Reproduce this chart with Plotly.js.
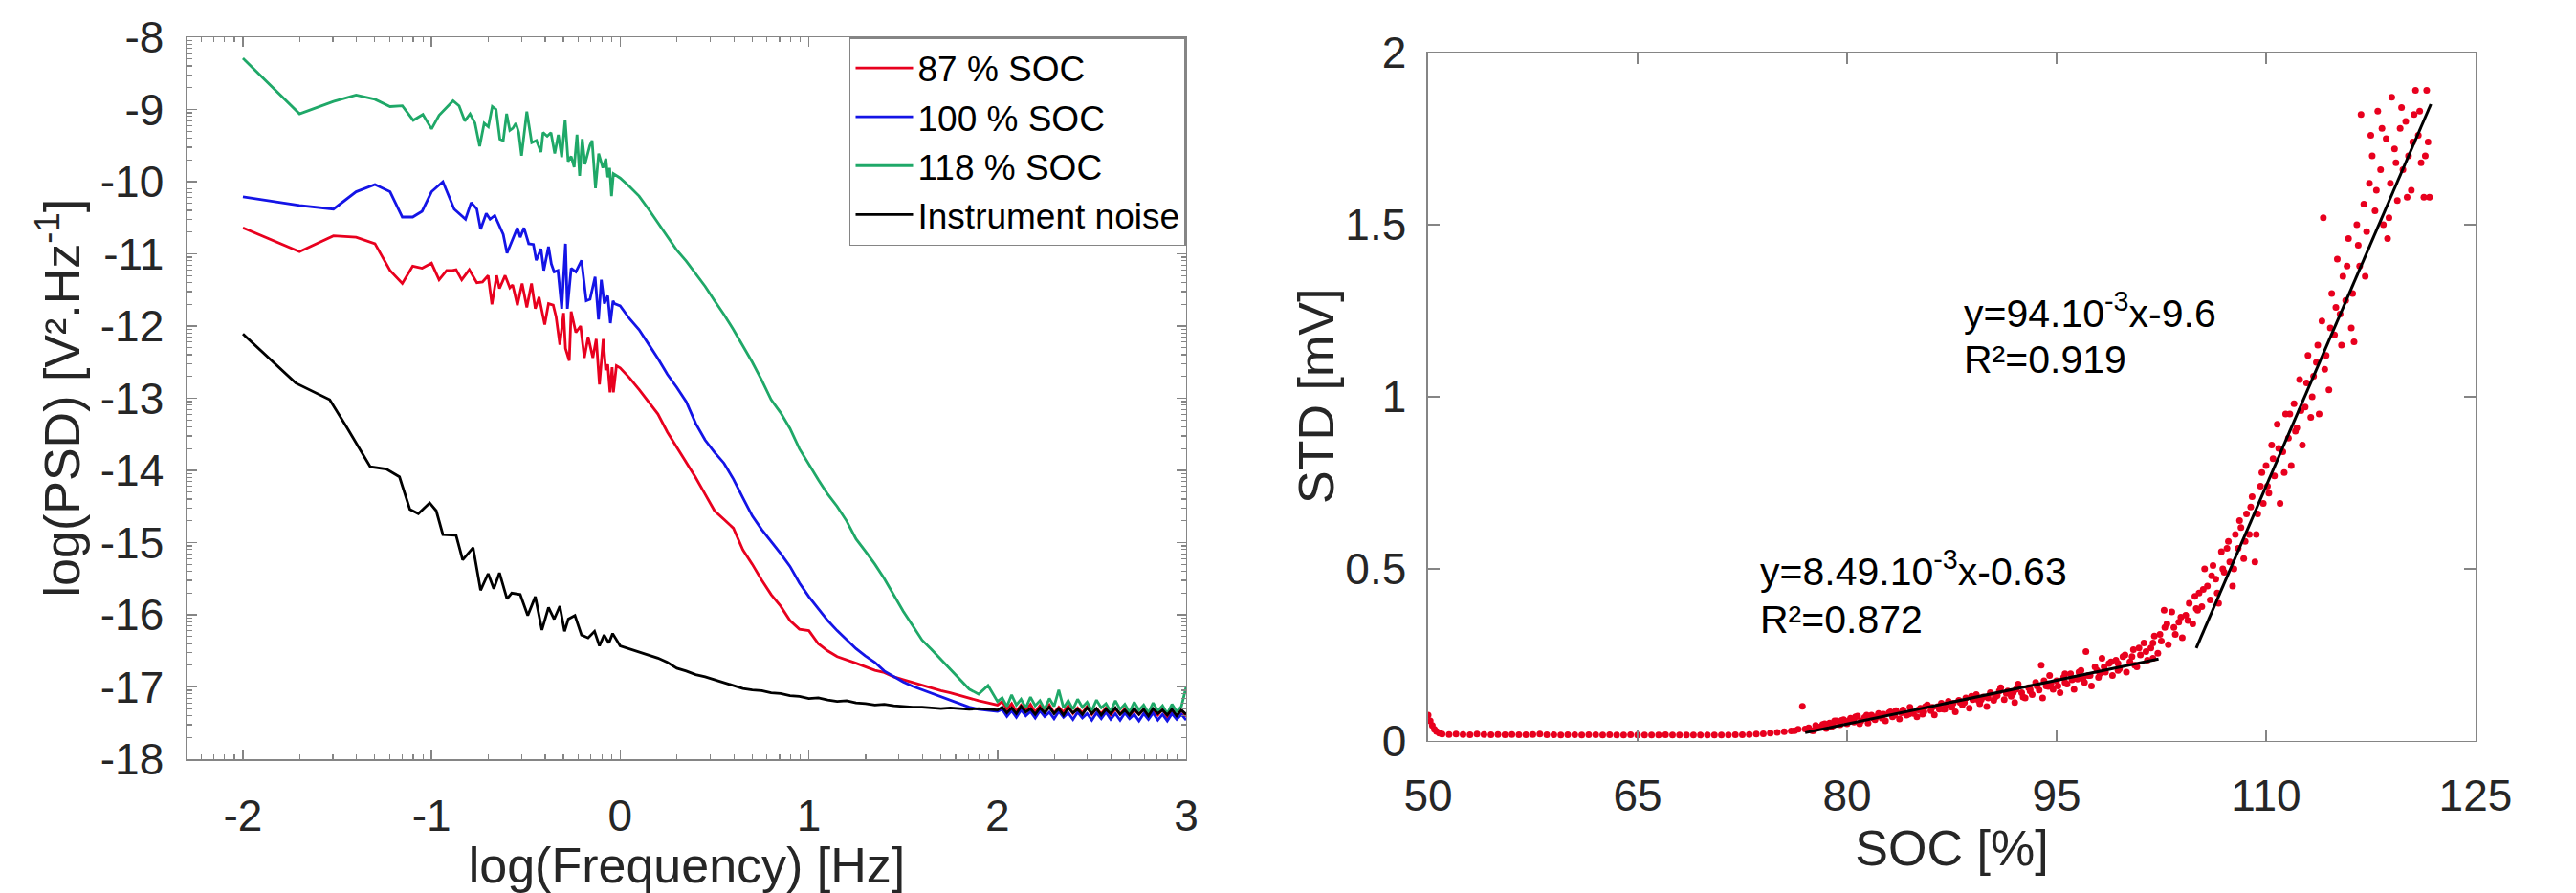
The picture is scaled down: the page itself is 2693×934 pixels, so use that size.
<!DOCTYPE html>
<html>
<head>
<meta charset="utf-8">
<script src="https://cdn.plot.ly/plotly-3.0.1.min.js"></script>
<style>html,body{margin:0;padding:0;background:#fff;}#chart{width:2693px;height:934px;}</style>
</head>
<body>
<div id="chart"></div>
<script>
// ---------------- LEFT PANEL DATA : log(PSD) vs log(Frequency) ----------------
const seriesNames = ['87 % SOC', '100 % SOC', '118 % SOC', 'Instrument noise'];

// low-frequency (noisy) part, each series with its own log(f) points
const soc87_lowLogF = [-2.0,-1.70,-1.52,-1.40,-1.30,-1.22,-1.155,-1.10,-1.05,-1.0,-0.96,-0.92,-0.89,-0.87,-0.84,-0.80,-0.76,-0.73,-0.70,-0.68,-0.655,-0.64,-0.61,-0.585,-0.57,-0.545,-0.52,-0.495,-0.47,-0.45,-0.43,-0.40,-0.38,-0.355,-0.34,-0.32,-0.30,-0.29,-0.27,-0.26,-0.235,-0.21,-0.19,-0.17,-0.145,-0.127,-0.11,-0.09,-0.077,-0.066,-0.054,-0.043,-0.036,-0.02];
const soc87_lowPSD  = [-10.64,-10.97,-10.75,-10.77,-10.86,-11.23,-11.41,-11.17,-11.2,-11.13,-11.36,-11.23,-11.23,-11.22,-11.36,-11.22,-11.4,-11.39,-11.3,-11.7,-11.3,-11.48,-11.3,-11.47,-11.43,-11.71,-11.41,-11.74,-11.41,-11.76,-11.6,-11.98,-11.69,-11.71,-11.87,-12.26,-11.82,-12.31,-12.48,-11.8,-12.09,-12.0,-12.44,-12.15,-12.44,-12.18,-12.81,-12.18,-12.61,-12.53,-12.92,-12.57,-12.92,-12.55];

const soc100_lowLogF = [-2.0,-1.7,-1.52,-1.4,-1.3,-1.22,-1.155,-1.1,-1.05,-1.0,-0.94,-0.88,-0.82,-0.79,-0.76,-0.74,-0.71,-0.69,-0.665,-0.64,-0.62,-0.60,-0.575,-0.545,-0.53,-0.51,-0.485,-0.46,-0.445,-0.42,-0.405,-0.38,-0.365,-0.35,-0.33,-0.31,-0.29,-0.28,-0.26,-0.235,-0.205,-0.18,-0.16,-0.133,-0.115,-0.10,-0.084,-0.066,-0.052,-0.038,-0.03];
const soc100_lowPSD  = [-10.21,-10.33,-10.38,-10.14,-10.04,-10.14,-10.49,-10.49,-10.41,-10.14,-10.0,-10.38,-10.52,-10.29,-10.38,-10.66,-10.44,-10.52,-10.47,-10.62,-10.73,-10.99,-10.82,-10.64,-10.77,-10.64,-10.86,-10.87,-11.09,-10.93,-11.23,-10.9,-11.14,-11.25,-11.23,-11.76,-10.86,-11.76,-11.2,-11.25,-11.09,-11.65,-11.63,-11.32,-11.91,-11.36,-11.69,-11.58,-11.96,-11.65,-11.69];

const soc118_lowLogF = [-2.0,-1.70,-1.52,-1.40,-1.30,-1.22,-1.155,-1.097,-1.046,-1.0,-0.96,-0.886,-0.854,-0.824,-0.796,-0.770,-0.745,-0.721,-0.699,-0.678,-0.658,-0.638,-0.620,-0.602,-0.585,-0.569,-0.553,-0.538,-0.523,-0.495,-0.469,-0.444,-0.420,-0.409,-0.387,-0.367,-0.347,-0.328,-0.310,-0.292,-0.276,-0.260,-0.244,-0.229,-0.215,-0.201,-0.187,-0.161,-0.149,-0.131,-0.114,-0.092,-0.076,-0.066,-0.056,-0.046,-0.036];
const soc118_lowPSD  = [-8.29,-9.06,-8.89,-8.80,-8.86,-8.96,-8.95,-9.15,-9.07,-9.27,-9.08,-8.88,-8.95,-9.16,-9.06,-9.19,-9.51,-9.19,-9.24,-8.96,-9.0,-9.41,-9.43,-9.06,-9.29,-9.26,-9.19,-9.32,-9.64,-9.03,-9.46,-9.43,-9.59,-9.32,-9.37,-9.32,-9.61,-9.35,-9.66,-9.14,-9.72,-9.65,-9.80,-9.35,-9.92,-9.41,-9.76,-9.50,-9.43,-10.09,-9.61,-9.81,-9.68,-9.94,-9.81,-10.2,-9.89];

const noise_lowLogF = [-2.0,-1.72,-1.54,-1.45,-1.325,-1.24,-1.17,-1.115,-1.07,-1.01,-0.975,-0.94,-0.87,-0.835,-0.78,-0.74,-0.70,-0.67,-0.64,-0.60,-0.575,-0.53,-0.49,-0.45,-0.415,-0.38,-0.35,-0.32,-0.295,-0.275,-0.24,-0.205,-0.17,-0.136,-0.11,-0.085,-0.06,-0.04];
const noise_lowPSD  = [-12.11,-12.79,-13.02,-13.4,-13.95,-13.98,-14.09,-14.54,-14.6,-14.45,-14.56,-14.89,-14.9,-15.24,-15.07,-15.66,-15.43,-15.64,-15.42,-15.78,-15.7,-15.72,-16.01,-15.75,-16.21,-15.9,-16.06,-15.88,-16.23,-16.06,-16.01,-16.28,-16.32,-16.23,-16.43,-16.28,-16.39,-16.26];

// high-frequency smooth part, shared log(f) grid
const highLogF = [0.00,0.05,0.10,0.15,0.20,0.25,0.30,0.35,0.40,0.45,0.50,0.55,0.60,0.65,0.70,0.75,0.80,0.85,0.90,0.95,1.00,1.05,1.10,1.15,1.20,1.25,1.30,1.35,1.40,1.45,1.50,1.55,1.60,1.65,1.70,1.75,1.80,1.85,1.90,1.95,2.00];
const soc87_highPSD  = [-12.58,-12.72,-12.88,-13.05,-13.22,-13.47,-13.68,-13.9,-14.1,-14.33,-14.56,-14.68,-14.8,-15.1,-15.3,-15.52,-15.72,-15.88,-16.08,-16.2,-16.22,-16.4,-16.5,-16.58,-16.62,-16.67,-16.72,-16.77,-16.8,-16.86,-16.9,-16.94,-16.98,-17.02,-17.05,-17.08,-17.12,-17.15,-17.19,-17.22,-17.25];
const soc100_highPSD = [-11.72,-11.9,-12.05,-12.25,-12.45,-12.67,-12.85,-13.05,-13.35,-13.58,-13.75,-13.9,-14.12,-14.38,-14.63,-14.82,-14.98,-15.15,-15.33,-15.56,-15.75,-15.92,-16.08,-16.22,-16.34,-16.47,-16.57,-16.66,-16.78,-16.86,-16.93,-16.99,-17.04,-17.09,-17.14,-17.19,-17.24,-17.28,-17.31,-17.33,-17.34];
const soc118_highPSD = [-9.95,-10.07,-10.2,-10.38,-10.57,-10.77,-10.95,-11.1,-11.28,-11.45,-11.65,-11.84,-12.05,-12.27,-12.5,-12.75,-13.02,-13.2,-13.42,-13.7,-13.92,-14.13,-14.33,-14.5,-14.7,-14.95,-15.12,-15.3,-15.5,-15.72,-15.95,-16.15,-16.35,-16.48,-16.62,-16.76,-16.9,-17.03,-17.1,-16.98,-17.2];
const noise_highPSD  = [-16.43,-16.47,-16.51,-16.55,-16.6,-16.66,-16.74,-16.78,-16.83,-16.86,-16.9,-16.94,-16.97,-17.02,-17.04,-17.05,-17.08,-17.09,-17.12,-17.13,-17.16,-17.15,-17.18,-17.2,-17.19,-17.22,-17.23,-17.25,-17.24,-17.26,-17.27,-17.28,-17.28,-17.29,-17.3,-17.29,-17.3,-17.31,-17.3,-17.31,-17.32];

// noisy plateau tail, shared log(f) grid
const tailLogF = [2.025,2.05,2.075,2.1,2.125,2.15,2.175,2.2,2.225,2.25,2.275,2.3,2.325,2.35,2.375,2.4,2.425,2.45,2.475,2.5,2.525,2.55,2.575,2.6,2.625,2.65,2.675,2.7,2.725,2.75,2.775,2.8,2.825,2.85,2.875,2.9,2.925,2.95,2.975,3.0];
const soc87_tailPSD  = [-17.2,-17.31,-17.23,-17.34,-17.25,-17.32,-17.24,-17.35,-17.26,-17.34,-17.25,-17.36,-17.28,-17.35,-17.26,-17.37,-17.29,-17.36,-17.27,-17.38,-17.3,-17.37,-17.29,-17.39,-17.31,-17.38,-17.3,-17.4,-17.32,-17.38,-17.31,-17.41,-17.33,-17.39,-17.31,-17.42,-17.33,-17.4,-17.32,-17.41];
const soc100_tailPSD = [-17.31,-17.41,-17.33,-17.42,-17.32,-17.4,-17.34,-17.43,-17.33,-17.41,-17.35,-17.44,-17.34,-17.42,-17.36,-17.45,-17.35,-17.43,-17.37,-17.46,-17.36,-17.44,-17.35,-17.45,-17.37,-17.46,-17.36,-17.44,-17.38,-17.47,-17.37,-17.45,-17.36,-17.46,-17.38,-17.47,-17.37,-17.45,-17.38,-17.46];
const soc118_tailPSD = [-17.15,-17.27,-17.11,-17.25,-17.17,-17.29,-17.14,-17.26,-17.19,-17.31,-17.16,-17.27,-17.04,-17.29,-17.19,-17.31,-17.17,-17.28,-17.21,-17.33,-17.18,-17.29,-17.23,-17.34,-17.19,-17.31,-17.24,-17.35,-17.21,-17.32,-17.25,-17.36,-17.22,-17.33,-17.26,-17.37,-17.24,-17.34,-17.27,-17.0];
const noise_tailPSD  = [-17.28,-17.36,-17.29,-17.37,-17.27,-17.35,-17.3,-17.38,-17.29,-17.36,-17.28,-17.37,-17.3,-17.39,-17.29,-17.36,-17.31,-17.38,-17.29,-17.37,-17.3,-17.39,-17.31,-17.37,-17.29,-17.38,-17.32,-17.39,-17.3,-17.38,-17.31,-17.4,-17.3,-17.37,-17.32,-17.39,-17.31,-17.4,-17.32,-17.38];

const leftXTicks = [-2,-1,0,1,2,3];
const leftXTickText = ['-2','-1','0','1','2','3'];
const leftYTicks = [-18,-17,-16,-15,-14,-13,-12,-11,-10,-9,-8];
const leftYTickText = ['-18','-17','-16','-15','-14','-13','-12','-11','-10','-9','-8'];

// ---------------- RIGHT PANEL DATA : STD vs SOC ----------------
const socPct = [50.0,50.15,50.3,50.45,50.6,50.8,51.0,51.5,52.0,52.5,53.0,53.5,54.0,54.5,55.0,55.5,56.0,56.5,57.0,57.5,58.0,58.5,59.0,59.5,60.0,60.5,61.0,61.5,62.0,62.5,63.0,63.5,64.0,64.5,65.0,65.5,66.0,66.5,67.0,67.5,68.0,68.5,69.0,69.5,70.0,70.5,71.0,71.5,72.0,72.5,73.0,73.5,74.0,74.5,75.0,75.5,76.0,
76.25,76.5,76.8,77.0,77.25,77.5,77.75,78.0,78.25,78.5,78.75,79.0,79.25,79.5,79.75,80.0,80.25,80.5,80.75,81.0,81.25,81.5,81.75,82.0,82.25,82.5,82.75,83.0,83.25,83.5,83.75,84.0,84.25,84.5,84.75,85.0,85.25,85.5,85.75,86.0,86.25,86.5,86.75,87.0,87.25,87.5,87.75,88.0,88.25,88.5,88.75,89.0,89.25,89.5,89.75,90.0,90.25,90.5,90.75,91.0,91.25,91.5,91.75,92.0,92.25,92.5,92.75,93.0,93.25,93.5,93.75,93.9,94.0,94.25,94.5,94.75,95.0,95.25,95.5,95.75,96.0,96.25,96.5,96.75,97.0,97.1,97.25,97.5,97.75,98.0,98.25,98.5,98.75,99.0,99.25,99.5,99.75,100.0,100.25,100.5,100.75,101.0,101.25,101.5,101.75,102.0,102.25,102.5,102.7,102.75,103.0,103.25,103.5,103.75,104.0,104.25,104.5,104.75,105.0,
79.1,80.6,81.9,83.1,84.4,85.6,86.9,88.1,89.4,90.6,91.9,93.1,94.4,95.6,96.9,98.1,99.4,100.6,101.9,
77.6,78.4,78.9,79.6,80.1,80.9,81.4,82.1,82.6,83.4,83.9,84.6,85.1,85.4,86.1,86.6,87.1,87.6,88.4,88.9,89.6,90.1,90.9,91.4,92.1,92.6,93.1,93.6,94.1,94.6,95.1,95.6,96.1,96.6,97.4,97.9,98.4,98.9,99.4,99.9,100.4,100.9,101.4,101.9,102.4,102.9,103.4,103.9,104.4,104.9,105.1,
105.2,105.4,105.6,105.8,106.0,106.2,106.4,106.6,106.8,107.0,107.2,107.4,107.6,107.8,108.0,108.2,108.4,108.6,108.8,109.0,109.2,109.4,109.6,109.8,110.0,110.2,110.4,110.6,110.8,111.0,111.2,111.4,111.6,111.8,112.0,112.2,112.4,112.6,112.8,113.0,113.2,113.4,113.6,113.8,114.0,114.1,114.3,114.5,114.7,114.9,115.1,115.3,115.5,115.7,115.9,116.1,116.3,116.5,116.7,116.8,117.0,117.2,117.4,117.6,117.8,118.0,118.2,118.4,118.6,118.7,118.9,119.0,119.2,119.4,119.6,119.8,120.0,120.2,120.4,120.6,120.7,120.9,121.1,121.3,121.5,121.6,121.7,
105.5,106.1,106.5,106.9,107.3,107.7,108.1,108.5,108.9,109.3,109.7,110.1,110.5,110.9,111.3,111.7,112.1,112.5,112.9,113.3,113.7,114.2,114.6,115.0,115.4,115.8,116.2,116.6,117.1,117.5,117.9,118.3,118.8,119.3,119.7,120.1,120.5,121.0,121.4];
const stdMv = [0.075,0.058,0.045,0.034,0.028,0.023,0.020,0.019,0.020,0.019,0.018,0.020,0.019,0.018,0.019,0.018,0.019,0.018,0.018,0.019,0.020,0.018,0.018,0.017,0.018,0.018,0.017,0.018,0.018,0.017,0.018,0.017,0.017,0.018,0.017,0.017,0.017,0.017,0.018,0.017,0.017,0.017,0.017,0.017,0.017,0.017,0.017,0.017,0.018,0.018,0.019,0.020,0.021,0.023,0.025,0.027,0.029,
0.030,0.034,0.101,0.035,0.038,0.030,0.045,0.040,0.048,0.036,0.052,0.045,0.058,0.047,0.062,0.050,0.066,0.055,0.072,0.058,0.068,0.052,0.075,0.062,0.080,0.066,0.058,0.082,0.070,0.088,0.064,0.090,0.075,0.098,0.080,0.070,0.095,0.085,0.105,0.088,0.076,0.100,0.110,0.092,0.115,0.098,0.085,0.118,0.105,0.125,0.095,0.120,0.135,0.108,0.128,0.100,0.140,0.118,0.132,0.155,0.120,0.145,0.130,0.112,0.165,0.140,0.125,0.155,0.135,0.170,0.148,0.220,0.125,0.160,0.190,0.150,0.175,0.140,0.185,0.165,0.195,0.150,0.180,0.205,0.170,0.260,0.190,0.160,0.215,0.185,0.240,0.200,0.225,0.190,0.235,0.210,0.245,0.200,0.230,0.265,0.215,0.250,0.285,0.235,0.270,0.305,0.255,0.290,0.380,0.330,0.280,0.375,0.310,0.345,0.300,0.365,0.400,0.340,0.385,
0.058,0.070,0.066,0.085,0.078,0.100,0.092,0.112,0.118,0.128,0.140,0.150,0.158,0.170,0.182,0.196,0.205,0.220,0.240,
0.030,0.050,0.042,0.060,0.058,0.050,0.075,0.070,0.078,0.075,0.082,0.085,0.090,0.078,0.098,0.092,0.105,0.110,0.112,0.130,0.120,0.125,0.145,0.138,0.150,0.128,0.145,0.160,0.175,0.165,0.160,0.195,0.178,0.200,0.190,0.205,0.215,0.230,0.225,0.250,0.245,0.270,0.260,0.285,0.310,0.340,0.330,0.360,0.350,0.420,0.380,
0.43,0.39,0.50,0.45,0.41,0.51,0.47,0.40,0.55,0.49,0.56,0.52,0.45,0.60,0.56,0.62,0.53,0.66,0.60,0.71,0.52,0.66,0.74,0.69,0.80,0.72,0.86,0.77,0.92,0.69,0.84,0.95,0.88,0.80,0.98,0.91,1.05,0.86,0.97,1.12,0.94,1.06,1.10,0.95,1.22,1.52,1.12,1.02,1.30,1.18,1.40,1.24,1.35,1.28,1.46,1.20,1.16,1.50,1.38,1.82,1.56,1.48,1.62,1.70,1.54,1.83,1.66,1.50,1.75,1.46,1.62,1.87,1.72,1.57,1.78,1.66,1.80,1.70,1.60,1.82,1.89,1.76,1.68,1.58,1.89,1.74,1.58,
0.44,0.48,0.43,0.50,0.58,0.50,0.64,0.58,0.68,0.60,0.78,0.74,0.82,0.85,0.78,0.95,0.90,0.96,1.04,1.00,1.15,1.08,1.20,1.26,1.15,1.38,1.30,1.44,1.35,1.76,1.60,1.78,1.52,1.68,1.84,1.58,1.74,1.83,1.70];

// linear fits as drawn (segment end points)
const fitLowSoc = [77.0, 102.3];
const fitLowStd = [0.024, 0.238];
const fitHighSoc = [105.0, 121.8];
const fitHighStd = [0.27, 1.85];

const rightXTicks = [50,65,80,95,110,125];
const rightYTicks = [0,0.5,1,1.5,2];
const rightYTickText = ['0','0.5','1','1.5','2'];

// ---------------- BUILD ----------------
const colors = ['#e8001e', '#1414e6', '#1fa868', '#000000'];
const lowX = [soc87_lowLogF, soc100_lowLogF, soc118_lowLogF, noise_lowLogF];
const lowY = [soc87_lowPSD, soc100_lowPSD, soc118_lowPSD, noise_lowPSD];
const highY = [soc87_highPSD, soc100_highPSD, soc118_highPSD, noise_highPSD];
const tailY = [soc87_tailPSD, soc100_tailPSD, soc118_tailPSD, noise_tailPSD];

const traces = [];
for (let i = 0; i < 4; i++) {
  traces.push({
    type: 'scatter', mode: 'lines', name: seriesNames[i],
    x: lowX[i].concat(highLogF, tailLogF),
    y: lowY[i].concat(highY[i], tailY[i]),
    line: {color: colors[i], width: 2.8},
    xaxis: 'x', yaxis: 'y', hoverinfo: 'skip'
  });
}
traces.push({type:'scatter', mode:'markers', x: socPct, y: stdMv, xaxis:'x2', yaxis:'y2', showlegend:false,
  marker:{color:'#e8001e', size:7}, hoverinfo:'skip'});
traces.push({type:'scatter', mode:'lines', x: fitLowSoc, y: fitLowStd, xaxis:'x2', yaxis:'y2', showlegend:false,
  line:{color:'#000', width:3}, hoverinfo:'skip'});
traces.push({type:'scatter', mode:'lines', x: fitHighSoc, y: fitHighStd, xaxis:'x2', yaxis:'y2', showlegend:false,
  line:{color:'#000', width:3}, hoverinfo:'skip'});

// log-style minor tick positions (axes originally logarithmic)
function logMinor(lo, hi) {
  const out = [];
  for (let n = Math.floor(lo) - 1; n <= Math.ceil(hi); n++)
    for (let k = 2; k <= 9; k++) { const v = n + Math.log10(k); if (v > lo && v < hi) out.push(v); }
  return out;
}

const AX = '#858585';
const TXT = '#262626';
const FONT = 'Liberation Sans, Arial, sans-serif';
const common = {
  ticks: 'inside', tickcolor: AX, tickwidth: 1.5, showline: true, linecolor: AX, linewidth: 1.5,
  mirror: 'ticks', showgrid: false, zeroline: false, tickfont: {size: 46, color: TXT, family: FONT},
  tickmode: 'array'
};

const layout = {
  width: 2693, height: 934,
  margin: {l: 0, r: 0, t: 0, b: 0},
  paper_bgcolor: '#fff', plot_bgcolor: '#fff',
  font: {family: FONT, color: TXT},
  showlegend: true,
  legend: {x: 0.46045, xanchor: 'right', y: 0.95824, yanchor: 'top', bordercolor: AX, borderwidth: 1.5,
    bgcolor: '#fff', font: {size: 37, color: '#000', family: FONT}, tracegroupgap: 0, itemwidth: 60},
  xaxis: Object.assign({}, common, {
    domain: [0.07278, 0.46045], range: [-2.294, 3], anchor: 'y',
    tickvals: leftXTicks, ticktext: leftXTickText, ticklen: 10, ticklabelstandoff: 18,
    minor: {tickmode: 'array', tickvals: logMinor(-2.294, 3), ticks: 'inside', ticklen: 5, tickcolor: AX, tickwidth: 1.2, showgrid: false},
    title: {text: 'log(Frequency) [Hz]', font: {size: 52, color: TXT, family: FONT}, standoff: 19}
  }),
  yaxis: Object.assign({}, common, {
    domain: [0.14989, 0.95824], range: [-18, -8], anchor: 'x',
    tickvals: leftYTicks, ticktext: leftYTickText, ticklen: 10, ticklabelstandoff: 14,
    minor: {tickmode: 'array', tickvals: logMinor(-18, -8), ticks: 'inside', ticklen: 5, tickcolor: AX, tickwidth: 1.2, showgrid: false}
  }),
  xaxis2: Object.assign({}, common, {
    domain: [0.5544, 0.96101], range: [50, 125], anchor: 'y2',
    tickvals: rightXTicks, ticktext: rightXTicks.map(String), ticklen: 12, ticklabelstandoff: 16,
    title: {text: 'SOC [%]', font: {size: 52, color: TXT, family: FONT}, standoff: 9}
  }),
  yaxis2: Object.assign({}, common, {
    domain: [0.17024, 0.94111], range: [0, 2], anchor: 'x2',
    tickvals: rightYTicks, ticktext: rightYTickText, ticklen: 12, ticklabelstandoff: 12
  }),
  annotations: [
    // vertical axis titles
    {xref: 'paper', yref: 'paper', x: 62 / 2693, y: 0.5541, xanchor: 'center', yanchor: 'middle', showarrow: false,
      textangle: -90, text: 'log(PSD) [V².Hz<sup>-1</sup>]', font: {size: 52, color: TXT, family: FONT}},
    {xref: 'paper', yref: 'paper', x: 1376 / 2693, y: 0.5557, xanchor: 'center', yanchor: 'middle', showarrow: false,
      textangle: -90, text: 'STD [mV]', font: {size: 52, color: TXT, family: FONT}},
    // fit equations
    {xref: 'x2', yref: 'y2', x: 88.2, y: 1.25, xanchor: 'left', yanchor: 'middle', showarrow: false,
      text: 'y=94.10<sup>-3</sup>x-9.6', font: {size: 41, color: '#000', family: FONT}},
    {xref: 'x2', yref: 'y2', x: 88.2, y: 1.107, xanchor: 'left', yanchor: 'middle', showarrow: false,
      text: 'R²=0.919', font: {size: 41, color: '#000', family: FONT}},
    {xref: 'x2', yref: 'y2', x: 73.6, y: 0.50, xanchor: 'left', yanchor: 'middle', showarrow: false,
      text: 'y=8.49.10<sup>-3</sup>x-0.63', font: {size: 41, color: '#000', family: FONT}},
    {xref: 'x2', yref: 'y2', x: 73.6, y: 0.354, xanchor: 'left', yanchor: 'middle', showarrow: false,
      text: 'R²=0.872', font: {size: 41, color: '#000', family: FONT}}
  ]
};

Plotly.newPlot('chart', traces, layout, {staticPlot: true, displayModeBar: false});
</script>
</body>
</html>
